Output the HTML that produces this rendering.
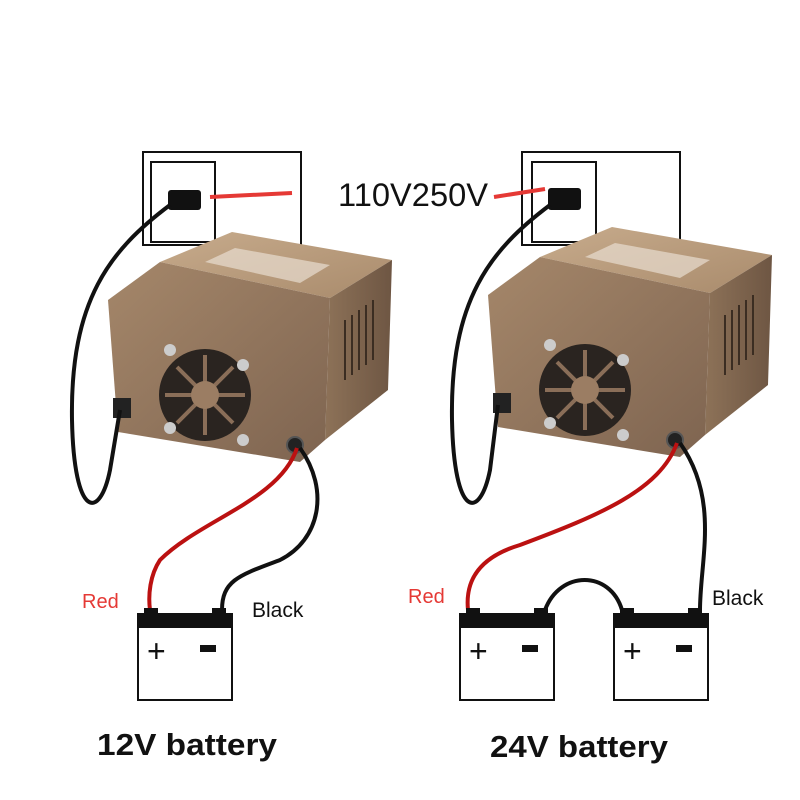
<!DOCTYPE html>
<html><head><meta charset="utf-8"><style>
html,body{margin:0;padding:0;background:#fff;}
svg{display:block;}
text{font-family:"Liberation Sans",sans-serif;}
</style></head><body>
<svg width="800" height="800" viewBox="0 0 800 800" xmlns="http://www.w3.org/2000/svg">
<defs>
<linearGradient id="tf" x1="0" y1="0" x2="1" y2="1"><stop offset="0" stop-color="#c7ab8c"/><stop offset="1" stop-color="#a98b6c"/></linearGradient>
<linearGradient id="ff" x1="0" y1="0" x2="1" y2="1"><stop offset="0" stop-color="#a5876a"/><stop offset="1" stop-color="#7e6450"/></linearGradient>
<linearGradient id="sf" x1="0" y1="0" x2="1" y2="0"><stop offset="0" stop-color="#8d7258"/><stop offset="1" stop-color="#6e5643"/></linearGradient>
<g id="box">
 <polygon points="160,262 232,232 392,260 330,298" fill="url(#tf)"/>
 <polygon points="205,262 235,248 330,265 300,283" fill="#e8ddd0" opacity="0.7"/>
 <polygon points="330,298 392,260 388,390 325,440" fill="url(#sf)"/>
 <polygon points="160,262 330,298 325,440 300,462 118,432 108,300" fill="url(#ff)"/>
 <g stroke="#3b2d22" stroke-width="2">
  <line x1="345" y1="320" x2="345" y2="380"/><line x1="352" y1="315" x2="352" y2="375"/><line x1="359" y1="310" x2="359" y2="370"/><line x1="366" y1="305" x2="366" y2="365"/><line x1="373" y1="300" x2="373" y2="360"/>
 </g>
 <circle cx="205" cy="395" r="46" fill="#2a2420"/>
 <g stroke="#8a6e58" stroke-width="4">
  <line x1="205" y1="355" x2="205" y2="435"/><line x1="165" y1="395" x2="245" y2="395"/><line x1="177" y1="367" x2="233" y2="423"/><line x1="233" y1="367" x2="177" y2="423"/>
 </g>
 <circle cx="205" cy="395" r="14" fill="#9b7d63"/>
 <circle cx="170" cy="350" r="6" fill="#ccc"/><circle cx="243" cy="365" r="6" fill="#ccc"/><circle cx="170" cy="428" r="6" fill="#ccc"/><circle cx="243" cy="440" r="6" fill="#ccc"/>
 <circle cx="295" cy="445" r="8" fill="#222" stroke="#555" stroke-width="2"/>
 <rect x="113" y="398" width="18" height="20" fill="#222"/>
</g>
<g id="batt">
 <rect x="0" y="614" width="94" height="86" fill="#fff" stroke="#111" stroke-width="2"/>
 <rect x="0" y="614" width="94" height="14" fill="#111"/>
 <rect x="6" y="608" width="14" height="8" fill="#111"/><rect x="74" y="608" width="14" height="8" fill="#111"/>
 <text x="9" y="662" font-size="32" fill="#111">+</text>
 <rect x="62" y="645" width="16" height="7" fill="#111"/>
</g>
</defs>

<rect x="143" y="152" width="158" height="93" fill="none" stroke="#111" stroke-width="2"/>
<rect x="151" y="162" width="64" height="80" fill="none" stroke="#111" stroke-width="2"/>
<rect x="522" y="152" width="158" height="93" fill="none" stroke="#111" stroke-width="2"/>
<rect x="532" y="162" width="64" height="80" fill="none" stroke="#111" stroke-width="2"/>

<use href="#box"/>
<use href="#box" transform="translate(380,-5)"/>

<rect x="168" y="190" width="33" height="20" rx="3" fill="#111"/>
<rect x="548" y="188" width="33" height="22" rx="3" fill="#111"/>
<path d="M170,205 C110,250 70,300 72,420 C74,520 100,520 110,470 L120,410" fill="none" stroke="#111" stroke-width="4"/>
<path d="M550,205 C490,250 450,300 452,420 C454,520 480,520 490,470 L498,405" fill="none" stroke="#111" stroke-width="4"/>

<line x1="210" y1="197" x2="292" y2="193" stroke="#e53935" stroke-width="4"/>
<line x1="494" y1="197" x2="545" y2="189" stroke="#e53935" stroke-width="4"/>
<text x="338" y="206" font-size="32" fill="#111" textLength="150" lengthAdjust="spacingAndGlyphs">110V250V</text>

<path d="M297,448 C280,500 200,520 160,560 C150,575 148,595 150,610" fill="none" stroke="#b11" stroke-width="4"/>
<path d="M300,448 C330,490 320,540 280,560 C240,575 222,580 222,610" fill="none" stroke="#111" stroke-width="4"/>
<path d="M677,443 C660,490 600,515 520,545 C470,560 466,590 468,610" fill="none" stroke="#b11" stroke-width="4"/>
<path d="M680,443 C720,500 700,560 700,610" fill="none" stroke="#111" stroke-width="4"/>
<path d="M545,610 C560,570 610,570 622,610" fill="none" stroke="#111" stroke-width="4"/>

<use href="#batt" transform="translate(138,0)"/>
<use href="#batt" transform="translate(460,0)"/>
<use href="#batt" transform="translate(614,0)"/>

<text x="82" y="608" font-size="20" fill="#e53935">Red</text>
<text x="252" y="617" font-size="21" fill="#111">Black</text>
<text x="408" y="603" font-size="20" fill="#e53935">Red</text>
<text x="712" y="605" font-size="21" fill="#111">Black</text>

<text x="97" y="755" font-size="31" font-weight="bold" fill="#111" textLength="180" lengthAdjust="spacingAndGlyphs">12V battery</text>
<text x="490" y="757" font-size="31" font-weight="bold" fill="#111" textLength="178" lengthAdjust="spacingAndGlyphs">24V battery</text>
</svg>
</body></html>
